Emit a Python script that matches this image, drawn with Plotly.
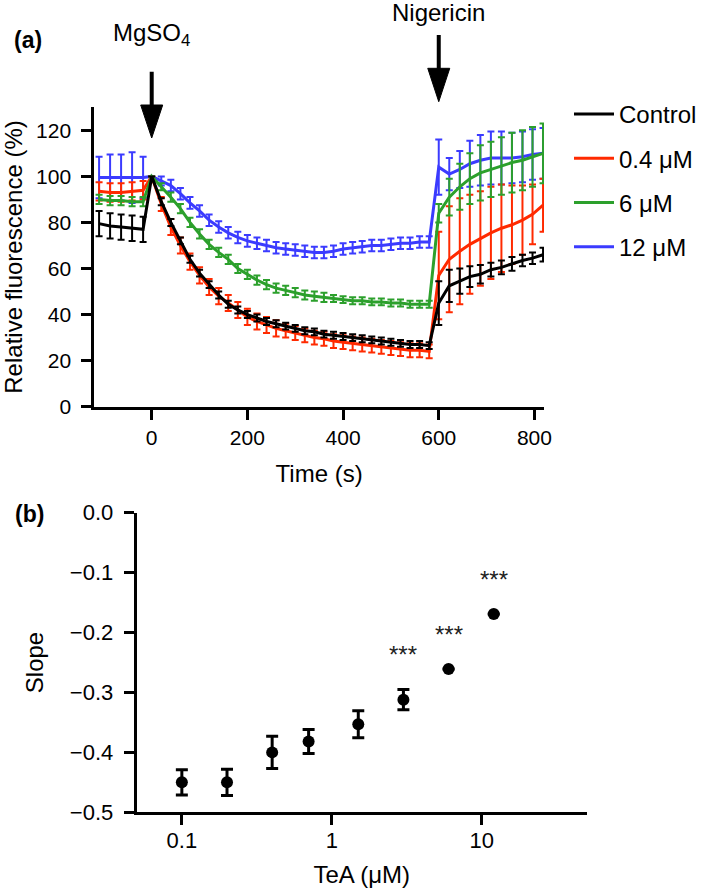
import numpy as np
import plotly.graph_objects as go

# ---------------- panel (a): fluorescence time course ----------------
time_s = [-110, -87, -64, -41, -18,
          0, 20, 40, 60, 80, 100, 120, 140, 160, 180, 200, 220, 240, 260, 280,
          300, 320, 340, 360, 380, 400, 420, 440, 460, 480, 500, 520, 540, 560, 580,
          600, 622, 644, 665, 687, 709, 731, 753, 775, 796, 818]

control = [79.5, 78.5, 78, 77.5, 77,
           100, 89, 80, 72, 64, 58, 53, 48.5, 44.5, 42, 40, 38.5, 37, 36, 35,
           34, 33, 32.5, 31.5, 31, 30.5, 30, 29.5, 29, 28.5, 28, 27.5, 27, 27, 26.5,
           45, 52.5, 54.5, 56.5, 57.5, 59.5, 60.5, 62, 63.5, 64.5, 66]
control_err = [5.5, 5.5, 5.5, 5.5, 5.5,
               0, 1.5, 1.5, 1.5, 1.5, 1.5, 1.5, 1.5, 1.5, 1.5, 1.5, 1.5, 1.5, 1.5, 1.5,
               1.5, 1.5, 1.5, 1.5, 1.5, 1.5, 1.5, 1.5, 1.5, 1.5, 1.5, 1.5, 1.5, 1.5, 1.5,
               9.5, 7, 5.5, 4.5, 4, 3, 3, 3, 2.5, 2.5, 3]

tea_04 = [93.5, 93, 93, 93.5, 94,
          100, 88, 78, 70, 63, 57, 52, 48, 45, 42, 39, 37, 35.5, 34, 33,
          32, 31, 30, 29.5, 28.5, 28, 27.5, 27, 26.5, 26, 25.5, 25, 24.5, 24.5, 24,
          57, 64, 67.5, 70.5, 73, 75.5, 77.5, 79, 81, 83.5, 87.5]
tea_04_err = [4, 4, 4, 4, 4,
              0, 3, 3.5, 3.5, 3.5, 3.5, 3.5, 3.5, 3.5, 3.5, 3.5, 3.5, 3.5, 3.5, 3,
              3, 3, 3, 3, 3, 3, 3, 3, 3, 3, 3, 3, 3, 3, 3,
              19, 23, 23, 21.5, 20.5, 20, 19, 17, 15, 13, 11.5]

tea_6 = [90, 89.5, 89.5, 89, 89,
         100, 95.5, 91, 86, 80, 75, 70.5, 67, 64, 60, 57.5, 55, 53, 51.5, 50.5,
         49.5, 48.5, 48, 47.5, 47, 46.5, 46, 46, 45.5, 45.5, 45, 45, 44.5, 44.5, 44.5,
         84, 91, 95.5, 99, 101.5, 103, 104.5, 106, 107, 108.5, 110]
tea_6_err = [2, 2, 2, 2, 2,
             0, 1.5, 2, 2, 2, 2, 2, 2, 2, 2, 2, 2, 2, 2, 2,
             2, 2, 2, 2, 1.5, 1.5, 1.5, 1.5, 1.5, 1.5, 1.5, 1.5, 1.5, 1.5, 1.5,
             4, 8, 10, 11, 12, 12, 12.5, 13, 13, 13, 13]

tea_12 = [99.5, 99.5, 99.5, 99.5, 99.5,
          100, 98, 96, 92.5, 88.5, 85, 81, 78, 75.5, 73.5, 72, 71, 70, 69, 68.5,
          68, 67.5, 67, 67, 67.5, 68.5, 69, 69.5, 70, 70, 70.5, 71, 71, 71.5, 71.5,
          104, 101, 103, 105.5, 107, 108, 108, 108, 108.5, 109.5, 110]
tea_12_err = [9, 10, 10, 11, 9,
              0, 2, 2.5, 2.5, 2.5, 2.5, 2.5, 2.5, 2.5, 2.5, 2.5, 2.5, 2.5, 2.5, 2.5,
              2.5, 2.5, 2.5, 2.5, 2.5, 2.5, 2.5, 2.5, 2.5, 2.5, 2.5, 2.5, 2.5, 2.5, 2.5,
              12, 7, 8, 10, 11, 11.5, 11.5, 11, 11, 11, 11]

series_names = ["Control", "0.4 μM", "6 μM", "12 μM"]
series_colors = ["#000000", "#ff2a00", "#2ca02c", "#3b3bff"]

x_ticks_a = [0, 200, 400, 600, 800]
y_ticks_a = [0, 20, 40, 60, 80, 100, 120]

# event markers (arrows)
event_labels = ["MgSO<sub>4</sub>", "Nigericin"]
event_times = [0, 600]

# ---------------- panel (b): slope vs TeA ----------------
tea_uM = [0.1, 0.2, 0.4, 0.7, 1.5, 3, 6, 12]
slope = [-0.450, -0.450, -0.400, -0.382, -0.353, -0.312, -0.261, -0.169]
slope_err = [0.021, 0.022, 0.027, 0.020, 0.0225, 0.017, 0.0, 0.0]
signif = ["", "", "", "", "", "***", "***", "***"]

x_ticks_b = [0.1, 1, 10]
x_ticktext_b = ["0.1", "1", "10"]
y_ticks_b = [0.0, -0.1, -0.2, -0.3, -0.4, -0.5]

# ---------------- layout geometry ----------------
W, H = 709, 890
FONT = "Liberation Sans, Arial, Helvetica, sans-serif"


def py(p):
    """pixel row -> paper y"""
    return 1 - p / H


ax_a_px = (94.3, 544.0)
ay_a_px = (406.7, 107.3)
ax_b_px = (136.7, 586.7)
ay_b_px = (812.3, 512.7)
xr_a = [-120, 820]

fig = go.Figure()

order = [3, 1, 2, 0]  # drawing order: 12, 0.4, 6, control on top
data_a = [control, tea_04, tea_6, tea_12]
err_a = [control_err, tea_04_err, tea_6_err, tea_12_err]
for i in order:
    fig.add_trace(go.Scatter(
        x=time_s, y=data_a[i], mode="lines", name=series_names[i],
        line=dict(color=series_colors[i], width=3),
        error_y=dict(type="data", array=err_a[i], visible=True,
                     color=series_colors[i], thickness=2, width=3.5),
        legendgroup=series_names[i], legendrank=i + 1,
        xaxis="x", yaxis="y", cliponaxis=False,
    ))

fig.add_trace(go.Scatter(
    x=tea_uM, y=slope, mode="markers", showlegend=False,
    marker=dict(color="black", size=12),
    error_y=dict(type="data", array=slope_err, visible=True,
                 color="black", thickness=3, width=6),
    xaxis="x2", yaxis="y2",
))

axis_common = dict(
    showline=True, linewidth=3, linecolor="black",
    ticks="outside", ticklen=10, tickwidth=3, tickcolor="black",
    showgrid=False, zeroline=False, automargin=False,
    tickfont=dict(family=FONT, size=21, color="black"),
)

fig.update_layout(
    width=W, height=H,
    margin=dict(l=0, r=0, t=0, b=0),
    paper_bgcolor="white", plot_bgcolor="white",
    font=dict(family=FONT, color="black"),
    xaxis=dict(axis_common, domain=[ax_a_px[0] / W, ax_a_px[1] / W], range=xr_a,
               tickvals=x_ticks_a, anchor="y",
               title=dict(text="Time (s)", font=dict(size=24), standoff=18)),
    yaxis=dict(axis_common, domain=[py(ay_a_px[0]), py(ay_a_px[1])], range=[0, 130],
               tickvals=y_ticks_a, anchor="x", ticklabelstandoff=6,
               title=dict(text="Relative fluorescence (%)", font=dict(size=24), standoff=14)),
    xaxis2=dict(axis_common, type="log", domain=[ax_b_px[0] / W, ax_b_px[1] / W],
                range=[np.log10(0.05), np.log10(50)], tickvals=x_ticks_b,
                ticktext=x_ticktext_b, anchor="y2", ticklabelstandoff=-4,
                tickfont=dict(family=FONT, size=22, color="black"),
                title=dict(text="TeA (μM)", font=dict(size=24), standoff=15)),
    yaxis2=dict(axis_common, domain=[py(ay_b_px[0]), py(ay_b_px[1])], range=[-0.5, 0],
                tickvals=y_ticks_b, tickformat=".1f", anchor="x2", ticklabelstandoff=6,
                tickfont=dict(family=FONT, size=22, color="black"),
                title=dict(text="Slope", font=dict(size=24), standoff=20)),
    legend=dict(x=569 / W, y=py(92), xanchor="left", yanchor="top",
                font=dict(family=FONT, size=24, color="black"),
                tracegroupgap=10, bgcolor="rgba(0,0,0,0)", traceorder="grouped",
                itemwidth=40),
    showlegend=True,
)

# arrows for the treatment events
hw = 11 * (xr_a[1] - xr_a[0]) / (ax_a_px[1] - ax_a_px[0])
arrow_px = [(71.7, 105.0, 138.0), (35.0, 68.3, 101.7)]  # shaft top, head base, tip
label_px = [34, 12]
for t, (top, base, tip), lab, lpy in zip(event_times, arrow_px, event_labels, label_px):
    fig.add_shape(type="line", xref="x", yref="paper", x0=t, x1=t,
                  y0=py(top), y1=py(base + 2), line=dict(color="black", width=4))
    fig.add_shape(type="path", xref="x", yref="paper",
                  path=f"M {t - hw},{py(base)} L {t + hw},{py(base)} L {t},{py(tip)} Z",
                  fillcolor="black", line=dict(color="black", width=1))
    fig.add_annotation(x=t, y=py(lpy), xref="x", yref="paper", text=lab,
                       showarrow=False, xanchor="center", yanchor="middle",
                       font=dict(family=FONT, size=24, color="black"))

# panel letters
fig.add_annotation(x=28 / W, y=py(40), xref="paper", yref="paper", text="<b>(a)</b>",
                   showarrow=False, xanchor="center", yanchor="middle",
                   font=dict(family=FONT, size=23, color="black"))
fig.add_annotation(x=29 / W, y=py(514), xref="paper", yref="paper", text="<b>(b)</b>",
                   showarrow=False, xanchor="center", yanchor="middle",
                   font=dict(family=FONT, size=23, color="black"))

# significance stars
for xv, yv, ev, s in zip(tea_uM, slope, slope_err, signif):
    if s:
        fig.add_annotation(x=np.log10(xv), y=yv + ev, xref="x2", yref="y2", text=s,
                           showarrow=False, yanchor="bottom", yshift=19,
                           font=dict(family=FONT, size=24, color="#222222"))

# remove the browser's default 8px page margin so the figure sits at (0, 0)
fig.write_html("out.html", config={"displayModeBar": False},
               post_script="document.body.style.margin='0';document.body.style.padding='0';")
